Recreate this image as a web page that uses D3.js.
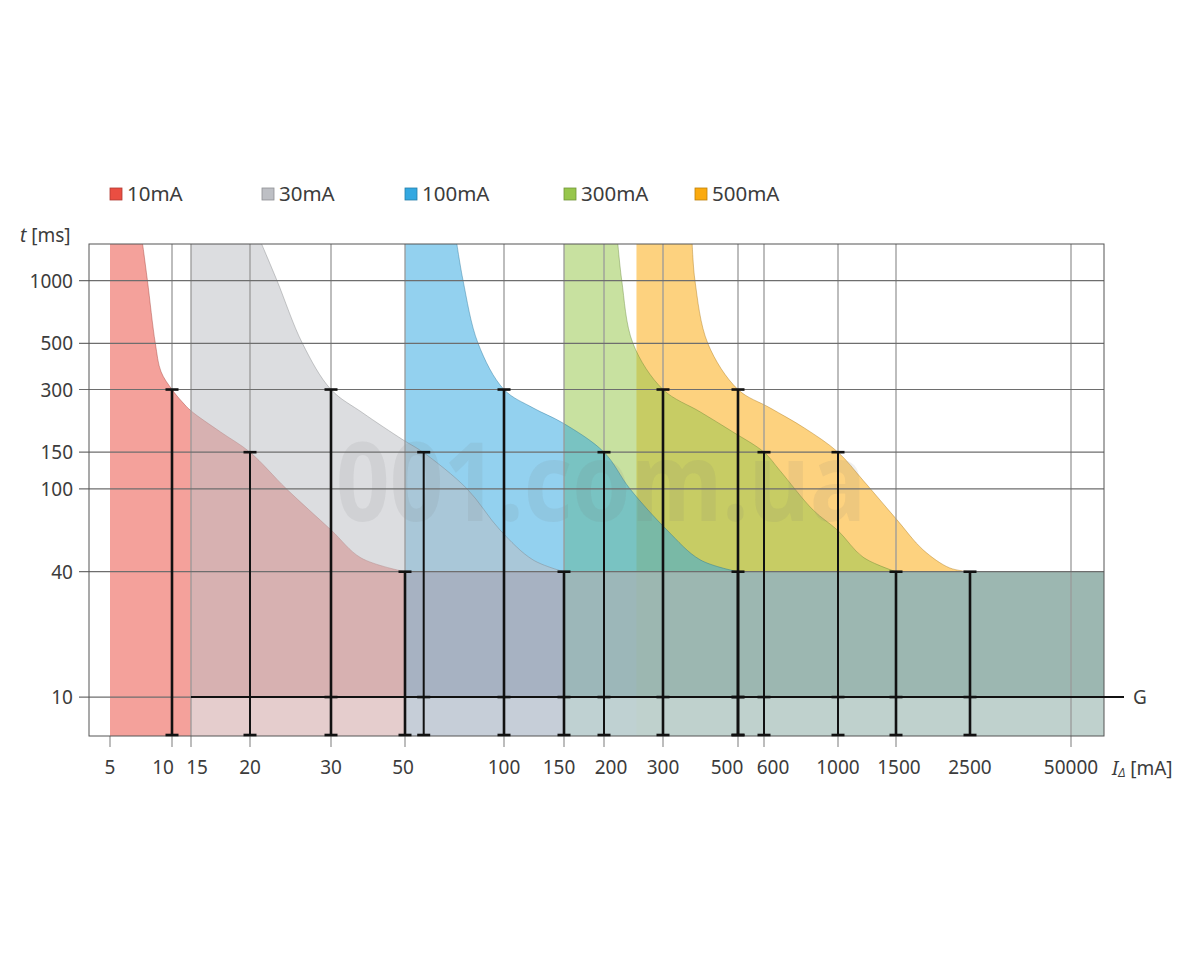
<!DOCTYPE html>
<html>
<head>
<meta charset="utf-8">
<script src="https://cdn.jsdelivr.net/npm/d3@7"></script>
<style>
  body { margin: 0; background: #fff; }
  svg text { font-family: "Noto Sans", "Open Sans", sans-serif; fill: #3c3c3c; }
</style>
</head>
<body>
<div id="chart"></div>
<script>
// RCD ratings and their trip-time bands
const ratings = ["10mA", "30mA", "100mA", "300mA", "500mA"];
const bandStart = [5, 15, 50, 150, 250];   // left edge of each band, mA

// upper boundary of each band [mA, ms]
const curve10  = [[7.2,1500],[7.6,1000],[8.3,500],[8.85,365],[10,300],[12.4,262],[15,237],[17.3,188],[20,150],[24,100],[30,63.5],[36.9,46.6],[50,40]];
const curve30  = [[21.2,1500],[22.9,1000],[26,500],[30,300],[37.3,232],[49.3,172],[56.7,150],[77.2,100],[97.2,63.5],[121.6,45.6],[150,40]];
const curve100 = [[71.9,1500],[75.1,1000],[83.4,500],[100,300],[121.6,245],[149,207],[200,150],[239,100],[308,63.5],[386.6,45.6],[500,40]];
const curve300 = [[220,1500],[226,1000],[244,500],[300,300],[387,234],[482,188],[600,150],[668,123],[843,79],[1000,63],[1191,47],[1500,40]];
const curve500 = [[366,1500],[373,1000],[407,500],[500,300],[625,245],[793,196],[1000,150],[1191,110],[1510,71],[1807,51],[2174,41.7],[2500,40]];
const curves = [curve10, curve30, curve100, curve300, curve500];

// test points: current per rating, with times barT
const barI = [[10,20,50],[30,57,150],[100,200,500],[300,600,1500],[500,1000,2500]];
const barT = [300, 150, 40];
const gType = [false, true, true, true, true];
const gTime = 10;
const gFrom = 15;

const xTicks = [5,10,15,20,30,50,100,150,200,300,500,600,1000,1500,2500,50000];
const yTicks = [10,40,100,150,300,500,1000];
const yRange = [6.5, 1500];
const watermark = "001.com.ua";

// ---- layout ----
const plot = {left: 89, top: 244, width: 1015, height: 492};
const xStops = [21,83,102,161,242,316,415,475,515,574,649,675,749,807,881,982];
const labelNudge = {10:-9, 15:6, 150:-5, 200:7, 500:-11, 600:9, 1500:3, 50:-2};
const legendX = [110, 262, 405, 564, 695];
const colors = ["#ea4e42", "#bdbfc4", "#33a8e1", "#97c64c", "#fbaa0e"];
const drawOrder = [0, 4, 3, 2, 1];

const xl = d3.scaleLinear().domain(xTicks.map(Math.log10)).range(xStops);
const x = v => xl(Math.log10(v));
const y = d3.scaleLog().domain(yRange).range([plot.height, 0]);
const xMax = Math.pow(10, xl.invert(plot.width));

const svg = d3.select("#chart").append("svg")
  .attr("width", 1200).attr("height", 960);

// legend
const legend = svg.append("g");
ratings.forEach((r, i) => {
  legend.append("rect")
    .attr("x", legendX[i]).attr("y", 188)
    .attr("width", 12).attr("height", 12)
    .attr("fill", colors[i])
    .attr("stroke", d3.color(colors[i]).darker(0.8))
    .attr("stroke-width", 0.8);
  legend.append("text")
    .attr("x", legendX[i] + 17).attr("y", 201)
    .attr("font-size", 20.5)
    .text(r);
});

const g = svg.append("g").attr("transform", `translate(${plot.left},${plot.top})`);

g.append("clipPath").attr("id", "clip")
  .append("rect").attr("width", plot.width).attr("height", plot.height);

const fills = g.append("g").attr("clip-path", "url(#clip)");
const smooth = d3.line().x(d => x(d[0])).y(d => y(d[1])).curve(d3.curveCatmullRom.alpha(0.5));

drawOrder.forEach(i => {
  const c = curves[i];
  const cs = smooth(c);
  const d = `M${x(bandStart[i])},${plot.height}L${x(bandStart[i])},0L${x(c[0][0])},0L` +
    cs.slice(1) +
    `L${x(xMax)},${y(40)}L${x(xMax)},${plot.height}Z`;
  fills.append("path")
    .attr("d", d)
    .attr("fill", colors[i])
    .attr("fill-opacity", 0.53)
    .attr("stroke", "none");
  fills.append("path")
    .attr("d", cs)
    .attr("fill", "none")
    .attr("stroke", d3.color(colors[i]).darker(1.2))
    .attr("stroke-opacity", 0.5)
    .attr("stroke-width", 0.8);
});

// G band below 10 ms
fills.append("rect")
  .attr("x", x(gFrom)).attr("y", y(gTime))
  .attr("width", x(xMax) - x(gFrom))
  .attr("height", plot.height - y(gTime))
  .attr("fill", "#fff").attr("fill-opacity", 0.36);

// watermark
fills.append("text")
  .attr("x", 601 - plot.left).attr("y", 521 - plot.top)
  .attr("text-anchor", "middle")
  .attr("font-family", "DejaVu Sans")
  .attr("font-weight", "bold")
  .attr("font-size", 110)
  .attr("textLength", 530)
  .attr("lengthAdjust", "spacingAndGlyphs")
  .style("fill", "#777")
  .style("fill-opacity", 0.11)
  .text(watermark);

// grid
const grid = g.append("g");
xTicks.forEach(v => {
  if (v === 2500) return;
  grid.append("line")
    .attr("x1", x(v)).attr("x2", x(v))
    .attr("y1", v === 5 ? plot.height : 0).attr("y2", plot.height + 11)
    .attr("stroke", "#9a9a9a").attr("stroke-width", 1.3);
});
yTicks.forEach(v => {
  grid.append("line")
    .attr("x1", -10).attr("x2", v === gTime ? x(gFrom) : plot.width)
    .attr("y1", y(v)).attr("y2", y(v))
    .attr("stroke", "#6e6e6e").attr("stroke-width", 1.2);
});
g.append("rect")
  .attr("width", plot.width).attr("height", plot.height)
  .attr("fill", "none").attr("stroke", "#555").attr("stroke-width", 1);

// G line
g.append("line")
  .attr("x1", x(gFrom)).attr("x2", plot.width + 20)
  .attr("y1", y(gTime)).attr("y2", y(gTime))
  .attr("stroke", "#111").attr("stroke-width", 2);
g.append("text")
  .attr("x", plot.width + 29).attr("y", y(gTime) + 7)
  .attr("font-size", 19)
  .text("G");

// test bars
const bars = g.append("g").attr("stroke", "#111");
const cap = (xx, yy) => bars.append("line")
  .attr("x1", xx - 6.5).attr("x2", xx + 6.5)
  .attr("y1", yy).attr("y2", yy)
  .attr("stroke-width", 2.6);
barI.forEach((row, i) => {
  row.forEach((v, j) => {
    const xx = x(v);
    bars.append("line")
      .attr("x1", xx).attr("x2", xx)
      .attr("y1", y(barT[j])).attr("y2", plot.height)
      .attr("stroke-width", j === 1 ? 2 : 2.6);
    cap(xx, y(barT[j]));
    cap(xx, plot.height - 1);
    if (gType[i]) cap(xx, y(gTime));
  });
});

// axis labels
const axis = g.append("g").attr("font-size", 19);
xTicks.forEach(v => {
  axis.append("text")
    .attr("x", x(v) + (labelNudge[v] || 0))
    .attr("y", plot.height + 38)
    .attr("text-anchor", "middle")
    .text(v);
});
yTicks.forEach(v => {
  axis.append("text")
    .attr("x", -16).attr("y", y(v) + 7)
    .attr("text-anchor", "end")
    .text(v);
});

const yt = svg.append("text").attr("x", 20).attr("y", 242).attr("font-size", 19);
yt.append("tspan").attr("font-style", "italic").text("t");
yt.append("tspan").text(" [ms]");

const xt = svg.append("text").attr("x", 1112).attr("y", 775).attr("font-size", 19);
xt.append("tspan").attr("font-style", "italic").text("I");
xt.append("tspan").attr("font-style", "italic").attr("font-size", 12).attr("dy", 2).text("Δ");
xt.append("tspan").attr("dy", -2).text(" [mA]");
</script>
</body>
</html>
